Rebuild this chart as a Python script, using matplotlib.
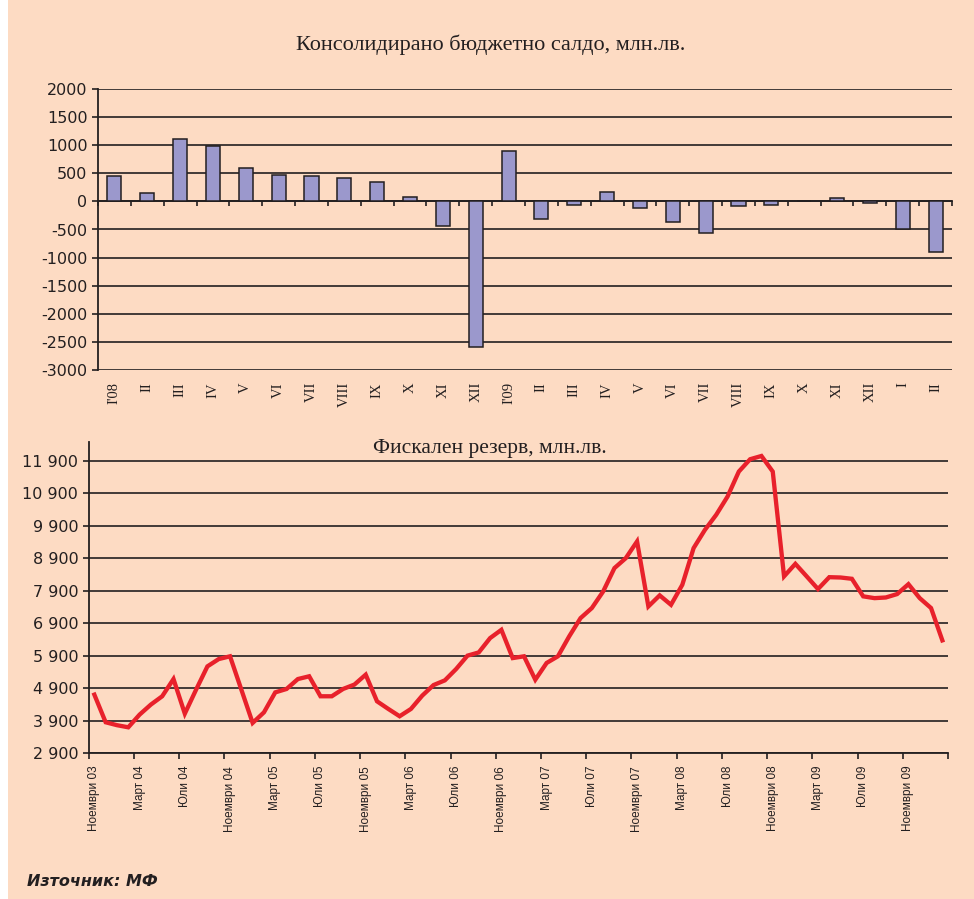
import numpy as np
import matplotlib.pyplot as plt
from matplotlib.patches import Rectangle
from matplotlib.ticker import FuncFormatter

plt.rcParams['axes.unicode_minus'] = False

# Консолидирано бюджетно салдо по месеци, млн.лв.
meseci = ["I'08", "II", "III", "IV", "V", "VI", "VII", "VIII", "IX", "X", "XI", "XII",
          "I'09", "II", "III", "IV", "V", "VI", "VII", "VIII", "IX", "X", "XI", "XII",
          "I", "II"]
saldo = [445, 155, 1110, 985, 600, 475, 445, 415, 345, 70, -440, -2590,
         905, -320, -70, 165, -120, -375, -570, -90, -70, 15, 55, -30,
         -490, -895]

# Фискален резерв, млн.лв. (ноември 2003 - февруари 2010)
rezerv = [4705, 3855, 3765, 3700, 4090, 4400, 4655, 5185, 4120, 4860,
          5575, 5800, 5885, 4860, 3835, 4160, 4775, 4880, 5185, 5270,
          4655, 4655, 4880, 5015, 5320, 4500, 4265, 4040, 4265, 4675,
          5000, 5145, 5495, 5905, 6005, 6445, 6700, 5830, 5885, 5165,
          5680, 5885, 6500, 7060, 7370, 7880, 8600, 8905, 9420, 7420,
          7760, 7470, 8085, 9215, 9775, 10240, 10800, 11570, 11950, 12050,
          11570, 8345, 8730, 8345, 7955, 8320, 8310, 8270, 7730, 7675,
          7695, 7800, 8105, 7675, 7370, 6375]
etiketi = ["Ноември 03", "Март 04", "Юли 04", "Ноември 04", "Март 05", "Юли 05",
           "Ноември 05", "Март 06", "Юли 06", "Ноември 06", "Март 07", "Юли 07",
           "Ноември 07", "Март 08", "Юли 08", "Ноември 08", "Март 09", "Юли 09",
           "Ноември 09"]

fon = '#fddbc3'
tamno = '#231f20'

fig = plt.figure(figsize=(9.74, 8.99), dpi=100, facecolor=fon)
# бяла ивица вляво
fig.patches.append(Rectangle((0, 0), 8 / 974, 1, transform=fig.transFigure,
                             facecolor='white', edgecolor='none', zorder=0))

# ---- горна графика: салдо ----
ax1 = fig.add_axes([98 / 974, 1 - 370 / 899, 854 / 974, 281 / 899])
ax1.set_facecolor(fon)
x1 = np.arange(len(saldo))
ax1.bar(x1, saldo, width=0.43, color='#9b98cc', edgecolor=tamno, linewidth=1.1, zorder=3)
ax1.set_xlim(-0.5, len(saldo) - 0.5)
ax1.set_ylim(-3000, 2000)
ax1.set_yticks(np.arange(-3000, 2001, 500))
ax1.yaxis.grid(True, color=tamno, linewidth=1.2)
ax1.set_axisbelow(True)
for s in ['top', 'right']:
    ax1.spines[s].set_visible(False)
ax1.spines['left'].set_color(tamno)
ax1.spines['left'].set_linewidth(1.3)
ax1.spines['bottom'].set_position(('data', 0))
ax1.spines['bottom'].set_color(tamno)
ax1.spines['bottom'].set_linewidth(1.3)
ax1.set_xticks(np.arange(-0.5, len(saldo), 1.0))
ax1.set_xticklabels([])
ax1.tick_params(axis='x', direction='out', length=3.5, width=1.2, color=tamno)
ax1.tick_params(axis='y', direction='out', length=4.5, width=1.2, color=tamno,
                labelsize=11.5, labelcolor=tamno, pad=3)
# римски месеци под графиката
for i, m in enumerate(meseci):
    ax1.text(i, -0.043, m, transform=ax1.get_xaxis_transform(), rotation=90,
             ha='center', va='top', fontsize=10.5, family='Liberation Serif', color=tamno)

fig.text(491 / 974, 1 - 45 / 899, 'Консолидирано бюджетно салдо, млн.лв.',
         ha='center', va='center', fontsize=16, family='Liberation Serif', color=tamno)

# ---- долна графика: фискален резерв ----
ax2 = fig.add_axes([88.7 / 974, 1 - 753.3 / 899, 859.3 / 974, 311.3 / 899])
ax2.set_facecolor(fon)
x2 = np.arange(len(rezerv))
ax2.plot(x2, rezerv, color='#e8212b', linewidth=3.1, solid_joinstyle='miter', zorder=3)
ax2.set_xlim(-0.5, len(rezerv) - 0.5)
ax2.set_ylim(2900, 12480)
ax2.set_yticks(np.arange(2900, 11901, 1000))
ax2.yaxis.set_major_formatter(FuncFormatter(lambda v, p: f'{int(v):,}'.replace(',', ' ')))
ax2.yaxis.grid(True, color=tamno, linewidth=1.2)
ax2.set_axisbelow(True)
for s in ['top', 'right']:
    ax2.spines[s].set_visible(False)
for s in ['left', 'bottom']:
    ax2.spines[s].set_color(tamno)
    ax2.spines[s].set_linewidth(1.3)
ax2.set_xticks(np.arange(-0.5, len(rezerv), 4))
ax2.set_xticklabels([])
ax2.set_xticks(np.arange(0, 4 * len(etiketi), 4), minor=True)
ax2.set_xticklabels(etiketi, minor=True, rotation=90, fontsize=8.5,
                    family='Liberation Sans', color=tamno)
ax2.tick_params(axis='x', which='major', direction='out', length=4, width=1.2, color=tamno)
ax2.tick_params(axis='x', which='minor', length=0, pad=9)
ax2.tick_params(axis='y', direction='out', length=4.5, width=1.2, color=tamno,
                labelsize=11.5, labelcolor=tamno, pad=3)

fig.text(490 / 974, 1 - 449 / 899, 'Фискален резерв, млн.лв.',
         ha='center', va='center', fontsize=15.5, family='Liberation Serif', color=tamno)

# източник
fig.text(27 / 974, 1 - 882 / 899, 'Източник: МФ', ha='left', va='center',
         fontsize=11.5, fontweight='heavy', fontstyle='italic', color=tamno)

plt.savefig('out.png', dpi=100, facecolor=fon)
